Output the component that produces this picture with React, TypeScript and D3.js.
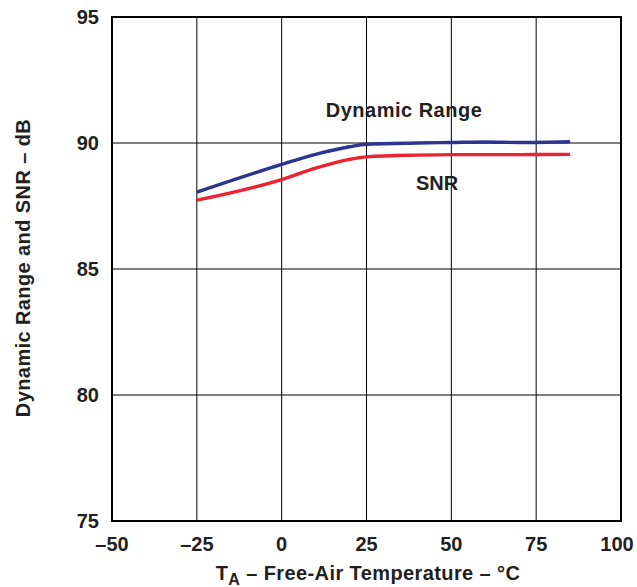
import React from "react";
import * as d3 from "d3";

const temps = [-25, 0, 10, 20, 25, 40, 50, 60, 70, 85];
const dynamicRange = [88.05, 89.15, 89.55, 89.85, 89.95, 90.0, 90.02, 90.04, 90.02, 90.05];
const snr = [87.73, 88.55, 89.0, 89.35, 89.45, 89.52, 89.54, 89.54, 89.54, 89.55];
const xTicks = [-50, -25, 0, 25, 50, 75, 100];
const yTicks = [75, 80, 85, 90, 95];

export default function App() {
  const W = 637, H = 587;
  const L = 112, R = 621, T = 17, B = 521;
  const x = d3.scaleLinear().domain([-50, 100]).range([L, R]);
  const y = d3.scaleLinear().domain([75, 95]).range([B, T]);
  const line = (vals: number[]) =>
    d3.line<number>().x((_, i) => x(temps[i])).y((d) => y(d)).curve(d3.curveMonotoneX)(vals) || "";
  const font = "Liberation Sans, Arial, sans-serif";
  const txt = "#231f20";
  return (
    <svg width={W} height={H} style={{ position: "absolute", left: 0, top: 0, background: "#fff" }} fontFamily={font}>
      {xTicks.slice(1, -1).map((t) => (
        <line key={"gx" + t} x1={x(t)} x2={x(t)} y1={T} y2={B} stroke="#000" strokeWidth={1} />
      ))}
      {yTicks.slice(1, -1).map((t) => (
        <line key={"gy" + t} x1={L} x2={R} y1={y(t)} y2={y(t)} stroke="#000" strokeWidth={1} />
      ))}
      <rect x={L} y={T} width={R - L} height={B - T} fill="none" stroke="#000" strokeWidth={2} />
      <path d={line(snr)} fill="none" stroke="#ee2230" strokeWidth={3.4} />
      <path d={line(dynamicRange)} fill="none" stroke="#2b3593" strokeWidth={3.4} />
      {xTicks.map((t) => (
        <text key={"xt" + t} x={Math.min(x(t), W - 20)} y={551} textAnchor="middle" fontSize={20} fontWeight="bold" fill={txt}>
          {t < 0 ? "\u2013" + Math.abs(t) : t}
        </text>
      ))}
      {yTicks.map((t) => (
        <text key={"yt" + t} x={99} y={y(t) + 7} textAnchor="end" fontSize={20} fontWeight="bold" fill={txt}>
          {t}
        </text>
      ))}
      <text x={404} y={117} textAnchor="middle" fontSize={20} fontWeight="bold" letterSpacing={0.5} fill={txt}>Dynamic Range</text>
      <text x={437} y={190} textAnchor="middle" fontSize={20} fontWeight="bold" fill={txt}>SNR</text>
      <text transform={`translate(30,268) rotate(-90)`} textAnchor="middle" fontSize={20} fontWeight="bold" letterSpacing={0.4} fill={txt}>
        Dynamic Range and SNR – dB
      </text>
      <text x={368} y={580} textAnchor="middle" fontSize={20} fontWeight="bold" letterSpacing={0.4} fill={txt}>
        T<tspan fontSize={16} dy={5}>A</tspan><tspan dy={-5}> – Free-Air Temperature – °C</tspan>
      </text>
    </svg>
  );
}
